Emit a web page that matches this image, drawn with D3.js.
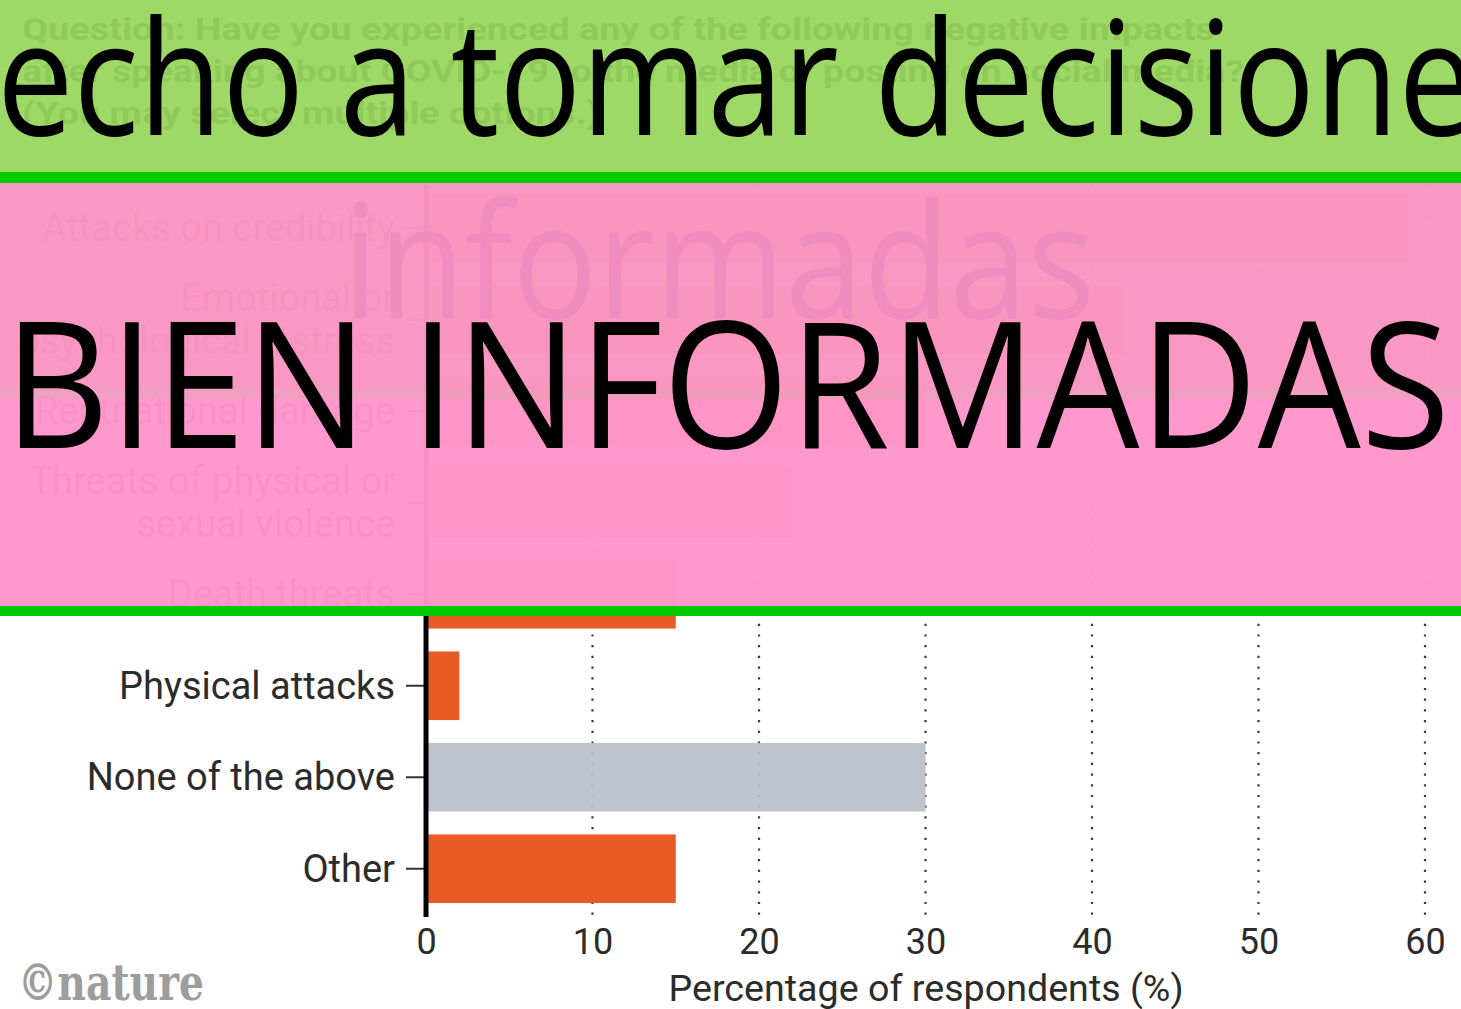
<!DOCTYPE html>
<html>
<head>
<meta charset="utf-8">
<script src="https://cdn.jsdelivr.net/npm/d3@7"></script>
<style>
  html, body { margin: 0; padding: 0; background: #ffffff; }
  svg { display: block; }
</style>
</head>
<body>
<svg id="chart" width="1461" height="1009"></svg>
<script>
// ---- data ----
const categories = [
  "Attacks on credibility",
  "Emotional or\npsychological distress",
  "Reputational damage",
  "Threats of physical or\nsexual violence",
  "Death threats",
  "Physical attacks",
  "None of the above",
  "Other"
];
const values = [59, 42, 30, 22, 15, 2, 30, 15];
const xTicks = [0, 10, 20, 30, 40, 50, 60];
const questionLines = [
  "Question: Have you experienced any of the following negative impacts",
  "after speaking about COVID-19 to the media or posting on social media?",
  "(You may select multiple options.)"
];
const xAxisTitle = "Percentage of respondents (%)";
const credit = "\u00A9nature";
const bannerTop = "echo a tomar decisione";
const bannerWatermark = "informadas";
const bannerMain = "BIEN INFORMADAS";

// ---- drawing ----
const svg = d3.select("#chart");
const W = 1461, H = 1009;
const labelFont = "Roboto, 'Liberation Sans', sans-serif";

svg.append("rect").attr("width", W).attr("height", H).attr("fill", "#ffffff");

const x = d3.scaleLinear().domain([0, 60]).range([426, 1425]);
const y = d3.scaleBand().domain(categories).range([182.5, 914.5])
  .paddingInner(0.25).paddingOuter(0.125);

// question text (sits under the green banner)
svg.append("g").selectAll("text").data(questionLines).join("text")
  .attr("x", 22).attr("y", (d, i) => 40 + i * 42)
  .attr("font-family", labelFont).attr("font-weight", 700)
  .attr("font-size", 31).attr("fill", "#333")
  .attr("textLength", (d, i) => [1193, 1222, 578][i])
  .attr("lengthAdjust", "spacingAndGlyphs")
  .text(d => d);

// gridlines
svg.append("g").selectAll("line").data(xTicks.filter(t => t > 0)).join("line")
  .attr("x1", d => x(d)).attr("x2", d => x(d))
  .attr("y1", 185).attr("y2", 922)
  .attr("stroke", "#3a3a3a").attr("stroke-width", 2.2)
  .attr("stroke-dasharray", "2.2,8.5");

// bars
svg.append("g").selectAll("rect").data(categories).join("rect")
  .attr("x", x(0))
  .attr("y", d => y(d))
  .attr("height", y.bandwidth())
  .attr("width", (d, i) => x(values[i]) - x(0))
  .attr("fill", d => d === "None of the above" ? "#b9c0c9" : "#e85a26")
  .attr("fill-opacity", d => d === "None of the above" ? 0.93 : 1);

// y axis
const yAxis = d3.axisLeft(y).tickSize(18).tickPadding(10).tickFormat("");
const gy = svg.append("g").attr("transform", "translate(424,0)").call(yAxis);
gy.select(".domain").remove();
gy.selectAll(".tick line").attr("stroke", "#333").attr("stroke-width", 2);
gy.selectAll(".tick").each(function(d) {
  const lines = d.split("\n");
  const t = d3.select(this).append("text")
    .attr("x", -29).attr("text-anchor", "end")
    .attr("font-family", labelFont).attr("font-size", 38)
    .attr("fill", "#2b2b2b");
  lines.forEach((ln, i) => {
    t.append("tspan").attr("x", -29)
      .attr("y", (i - (lines.length - 1) / 2) * 43 + 13)
      .text(ln);
  });
});
svg.append("line").attr("x1", 426).attr("x2", 426)
  .attr("y1", 185).attr("y2", 917)
  .attr("stroke", "#000").attr("stroke-width", 5);

// x axis
const xAxis = d3.axisBottom(x).tickValues(xTicks).tickSize(0).tickPadding(0);
const gx = svg.append("g").attr("transform", "translate(0,954)").call(xAxis);
gx.select(".domain").remove();
gx.selectAll(".tick text").attr("dy", 0).attr("y", 0)
  .attr("font-family", labelFont).attr("font-size", 36).attr("fill", "#2b2b2b");

svg.append("text").attr("x", 926).attr("y", 1001).attr("text-anchor", "middle")
  .attr("font-family", labelFont).attr("font-size", 36).attr("fill", "#2b2b2b")
  .attr("textLength", 515).attr("lengthAdjust", "spacingAndGlyphs")
  .text(xAxisTitle);

svg.append("text").attr("x", 18).attr("y", 1000)
  .attr("font-family", "'DejaVu Serif', 'Liberation Serif', serif")
  .attr("font-weight", 700).attr("font-size", 50).attr("fill", "#9d9d9d")
  .attr("textLength", 186).attr("lengthAdjust", "spacingAndGlyphs")
  .text(credit);

// ---- overlay banners ----
// green banner
svg.append("rect").attr("x", 0).attr("y", 0).attr("width", W).attr("height", 172)
  .attr("fill", "#97d55b").attr("fill-opacity", 0.93);
svg.append("rect").attr("x", 0).attr("y", 172).attr("width", W).attr("height", 11)
  .attr("fill", "#00cc00");
svg.append("text").attr("x", -3).attr("y", 135)
  .attr("font-family", "'Open Sans', 'Noto Sans', sans-serif")
  .attr("font-size", 160).attr("fill", "#000")
  .attr("textLength", 1478).attr("lengthAdjust", "spacingAndGlyphs")
  .text(bannerTop);

// pink banner
svg.append("rect").attr("x", 0).attr("y", 183).attr("width", W).attr("height", 206)
  .attr("fill", "#f997c2").attr("fill-opacity", 0.975);
svg.append("rect").attr("x", 0).attr("y", 389).attr("width", W).attr("height", 10)
  .attr("fill", "#f09cc0").attr("fill-opacity", 0.98);
svg.append("rect").attr("x", 0).attr("y", 399).attr("width", W).attr("height", 207)
  .attr("fill", "#ff96cb").attr("fill-opacity", 0.97);
svg.append("rect").attr("x", 0).attr("y", 606).attr("width", W).attr("height", 10)
  .attr("fill", "#00cc00");

svg.append("text").attr("x", 343).attr("y", 318)
  .attr("font-family", "'Open Sans', 'Noto Sans', sans-serif")
  .attr("font-size", 160).attr("fill", "#f08dbf")
  .attr("textLength", 752).attr("lengthAdjust", "spacingAndGlyphs")
  .text(bannerWatermark);

svg.append("text").attr("x", 4).attr("y", 448)
  .attr("font-family", "'Open Sans', 'Noto Sans', sans-serif")
  .attr("font-size", 176).attr("fill", "#000")
  .attr("textLength", 1446).attr("lengthAdjust", "spacingAndGlyphs")
  .text(bannerMain);
</script>
</body>
</html>
